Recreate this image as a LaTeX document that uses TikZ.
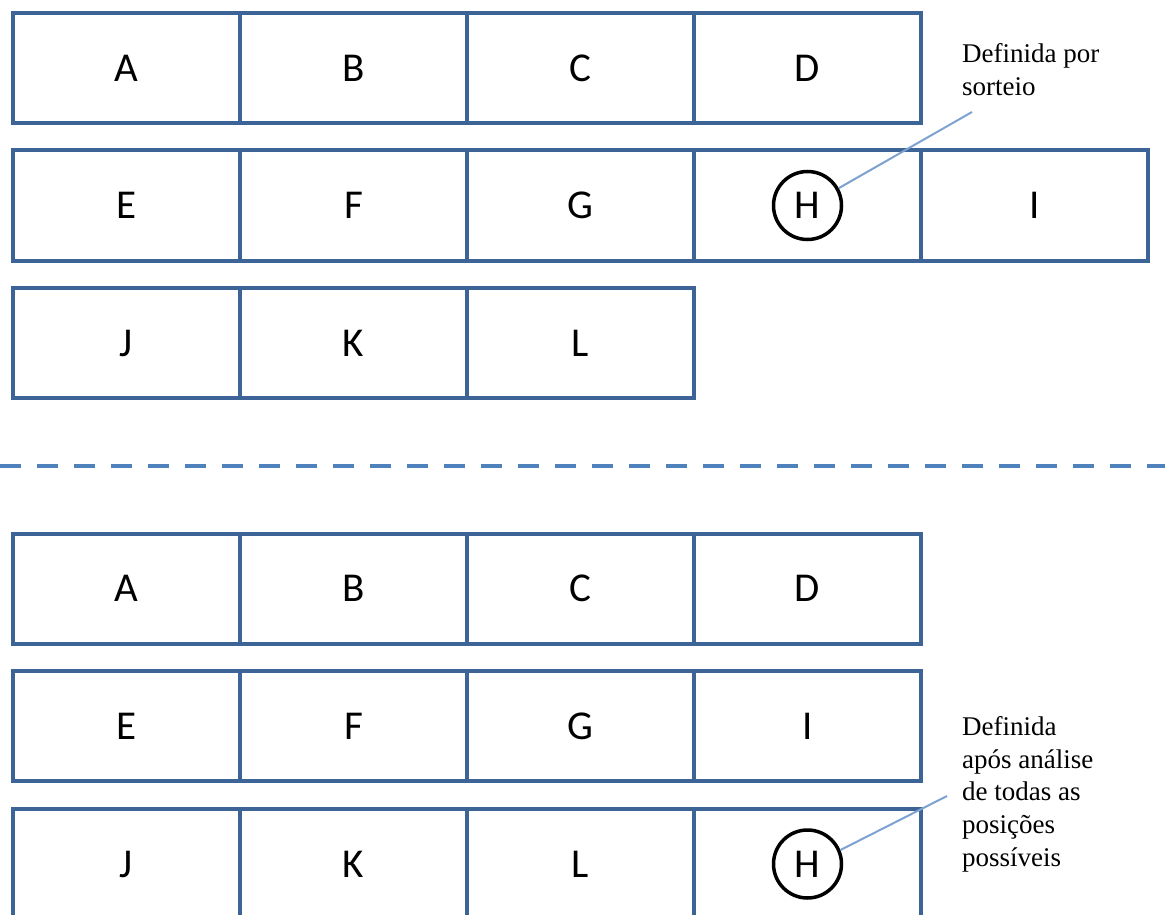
\documentclass[tikz,border=0pt]{standalone}
\usepackage{fontspec}
\setmainfont{Liberation Serif}
\newfontfamily\cellfont{Carlito}
\definecolor{boxblue}{RGB}{60,100,150}
\definecolor{dashblue}{RGB}{79,129,189}
\definecolor{leadblue}{RGB}{125,162,210}
\begin{document}
\begin{tikzpicture}[x=1pt,y=-1pt,
  cell/.style={draw=boxblue, line width=4pt, minimum width=227pt, minimum height=110pt,
    inner sep=0pt, font=\cellfont\fontsize{41}{41}\selectfont, text depth=0pt},
  pick/.style={draw=black, circle, line width=3.5pt, minimum size=68pt, inner sep=0pt,
    font=\cellfont\fontsize{41}{41}\selectfont, text depth=0pt},
  note/.style={anchor=north west, inner sep=0pt, align=left,
    font=\fontsize{27}{32.8}\selectfont},
  leader/.style={draw=leadblue, line width=2pt},
  sepline/.style={draw=dashblue, line width=4pt, dash pattern=on 21pt off 16pt}]
\fill[white] (0,0) rectangle (1165,915);
\useasboundingbox (0,0) rectangle (1165,915);
% ---------- top section ----------
\node[cell] (A1) at (126.5,68) {A};
\node[cell] (B1) at (353.5,68) {B};
\node[cell] (C1) at (580.5,68) {C};
\node[cell] (D1) at (807.5,68) {D};
\node[cell] (E1) at (126.5,205.5) {E};
\node[cell] (F1) at (353.5,205.5) {F};
\node[cell] (G1) at (580.5,205.5) {G};
\node[cell] (H1cell) at (807.5,205.5) {};
\node[cell] (I1) at (1034.5,205.5) {I};
\node[cell] (J1) at (126.5,343) {J};
\node[cell] (K1) at (353.5,343) {K};
\node[cell] (L1) at (580.5,343) {L};
\node[pick] (H1) at (807.5,205.5) {H};
\node[note] (N1) at (962,43) {Definida por\\sorteio};
\coordinate (N1end) at (972,112);
\draw[leader] (H1.29) -- (N1end);
% ---------- separator ----------
\coordinate (sepL) at (0,466);
\coordinate (sepR) at (1165,466);
\draw[sepline] (sepL) -- (sepR);
% ---------- bottom section ----------
\node[cell] (A2) at (126.5,588.5) {A};
\node[cell] (B2) at (353.5,588.5) {B};
\node[cell] (C2) at (580.5,588.5) {C};
\node[cell] (D2) at (807.5,588.5) {D};
\node[cell] (E2) at (126.5,726) {E};
\node[cell] (F2) at (353.5,726) {F};
\node[cell] (G2) at (580.5,726) {G};
\node[cell] (I2) at (807.5,726) {I};
\node[cell] (J2) at (126.5,864) {J};
\node[cell] (K2) at (353.5,864) {K};
\node[cell] (L2) at (580.5,864) {L};
\node[cell] (H2cell) at (807.5,864) {};
\node[pick] (H2) at (807.5,864) {H};
\node[note] (N2) at (962,716) {Definida\\após análise\\de todas as\\posições\\possíveis};
\coordinate (N2end) at (947,796);
\draw[leader] (H2.23) -- (N2end);
\end{tikzpicture}
\end{document}
